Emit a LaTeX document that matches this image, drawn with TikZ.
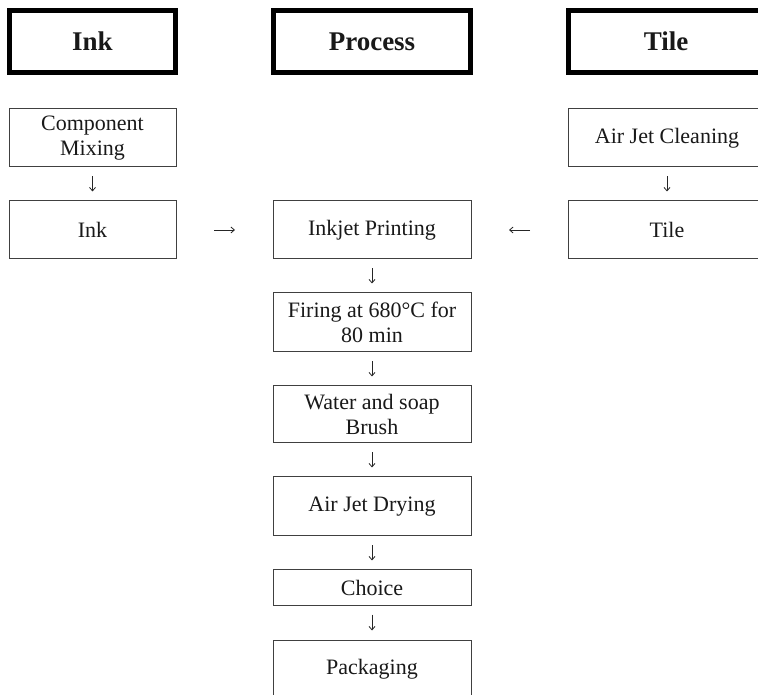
\documentclass[tikz,border=0pt]{standalone}
\usepackage{fontspec}
\setmainfont{Liberation Serif}
\usetikzlibrary{arrows.meta}
\begin{document}
\begin{tikzpicture}[x=1pt,y=1pt,
  hdr/.style={draw=black, line width=5pt, minimum width=#1, minimum height=62pt,
    inner sep=0pt, outer sep=0pt, font=\fontsize{27}{30}\selectfont\bfseries, text=black!90},
  stepbox/.style={draw=black!75, line width=1pt, minimum width=#1, minimum height=58pt,
    inner sep=0pt, outer sep=0pt, align=center, font=\fontsize{22}{24.5}\selectfont, text=black!90},
  arr/.style={draw=black!85, line width=0.8pt, -{Straight Barb[length=3.5pt,width=6pt]}},
  varr/.style={arr, shorten <=9.5pt, shorten >=9.5pt},
  harr/.style={arr, shorten <=38pt, shorten >=38pt}
]
\useasboundingbox (0,0) rectangle (758,694);
\clip (0,0) rectangle (758,694);
\fill[white] (0,0) rectangle (758,694);

% headers
\node[hdr=166pt] (hInk) at (92.5,652.5) {Ink};
\node[hdr=197pt] (hProc) at (372,652.5) {Process};
\node[hdr=195pt] (hTile) at (666,652.5) {Tile};

% ink column
\node[stepbox=167pt] (cm) at (92.5,556) {Component\\Mixing};
\node[stepbox=167pt] (ink) at (92.5,464) {Ink};

% tile column
\node[stepbox=198pt] (ajc) at (667,556) {Air Jet Cleaning};
\node[stepbox=198pt] (tile) at (667,464) {Tile};

% process column
\node[stepbox=198pt] (inkjet) at (372,464) {Inkjet Printing};
\node[stepbox=198pt, minimum height=59pt] (firing) at (372,371.5) {Firing at 680°C for\\80 min};
\node[stepbox=198pt, minimum height=57pt] (water) at (372,279.5) {Water and soap\\Brush};
\node[stepbox=198pt, minimum height=59pt] (drying) at (372,187.5) {Air Jet Drying};
\node[stepbox=198pt, minimum height=35pt] (choice) at (372,106.5) {Choice};
\node[stepbox=198pt] (pack) at (372,25) {Packaging};

% connectors
\draw[varr] (cm.south) -- (ink.north);
\draw[varr] (ajc.south) -- (tile.north);
\draw[harr] (ink.east) -- (inkjet.west);
\draw[harr] (tile.west) -- (inkjet.east);
\draw[varr] (inkjet.south) -- (firing.north);
\draw[varr] (firing.south) -- (water.north);
\draw[varr] (water.south) -- (drying.north);
\draw[varr] (drying.south) -- (choice.north);
\draw[varr] (choice.south) -- (pack.north);
\end{tikzpicture}
\end{document}
